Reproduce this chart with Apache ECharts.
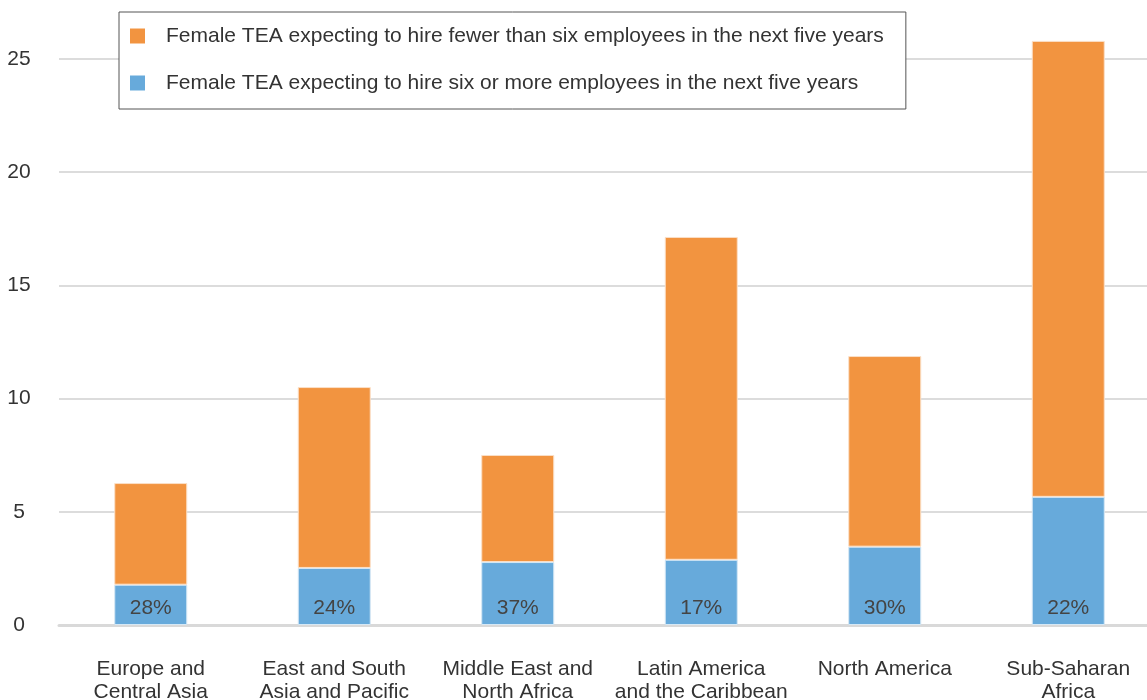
<!DOCTYPE html>
<html>
<head>
<meta charset="utf-8">
<script src="https://cdn.jsdelivr.net/npm/echarts@6/dist/echarts.min.js"></script>
<style>
  html, body { margin: 0; padding: 0; background: #fff; }
  #chart { width: 1147px; height: 700px; }
</style>
</head>
<body>
<div id="chart"></div>
<script>
// regions on the x axis
const regions = [
  'Europe and\nCentral Asia',
  'East and South\nAsia and Pacific',
  'Middle East and\nNorth Africa',
  'Latin America\nand the Caribbean',
  'North America',
  'Sub-Saharan\nAfrica'
];
// female TEA expecting to hire six or more (bottom, blue)
const sixOrMore = [1.78, 2.52, 2.78, 2.88, 3.46, 5.66];
// female TEA expecting to hire fewer than six (top, orange)
const fewerThanSix = [4.49, 7.99, 4.73, 14.26, 8.42, 20.14];
// share of the six-or-more group, printed in the blue part
const shareLabels = ['28%', '24%', '37%', '17%', '30%', '22%'];

const nameFewer = 'Female TEA expecting to hire fewer than six employees in the next five years';
const nameSix = 'Female TEA expecting to hire six or more employees in the next five years';

const font = 'Liberation Sans';
const chart = echarts.init(document.getElementById('chart'));

chart.setOption({
  animation: false,
  textStyle: { fontFamily: font },
  legend: {
    orient: 'vertical',
    left: 119,
    top: 12,
    padding: [13, 22, 15, 11],
    itemGap: 25,
    itemWidth: 15,
    itemHeight: 15,
    icon: 'rect',
    itemStyle: { borderWidth: 0 },
    borderColor: '#555',
    borderWidth: 1,
    backgroundColor: '#fff',
    data: [nameFewer, nameSix],
    textStyle: { fontSize: 21, color: '#333', lineHeight: 22, padding: [0, 0, 0, 16], fontFamily: font }
  },
  // plot area runs a little past the right edge of the picture
  grid: { left: 59, width: 1101, top: 59, bottom: 75, outerBoundsMode: 'none' },
  xAxis: {
    type: 'category',
    data: regions,
    axisLine: { lineStyle: { color: '#d9d9d9', width: 3 } },
    axisTick: { show: false },
    axisLabel: { fontSize: 21, color: '#333', lineHeight: 23, margin: 33, interval: 0, fontFamily: font }
  },
  yAxis: {
    type: 'value',
    min: 0,
    max: 25,
    interval: 5,
    axisLine: { show: false },
    axisTick: { show: false },
    splitLine: { lineStyle: { color: '#dcdcdc', width: 2 } },
    axisLabel: { fontSize: 21, color: '#333', align: 'center', margin: 40, padding: [0, 0, 14, 0], fontFamily: font }
  },
  series: [
    {
      name: nameSix,
      type: 'bar',
      stack: 'tea',
      data: sixOrMore,
      barWidth: 73,
      clip: false,
      itemStyle: { color: '#67aadb', borderColor: '#d6e8f5', borderWidth: 1 },
      label: {
        show: true,
        position: 'insideBottom',
        distance: 6,
        fontSize: 21,
        color: '#444',
        fontFamily: font,
        formatter: p => shareLabels[p.dataIndex]
      }
    },
    {
      name: nameFewer,
      type: 'bar',
      stack: 'tea',
      data: fewerThanSix,
      barWidth: 73,
      clip: false,
      itemStyle: { color: '#f29440', borderColor: '#fbe0c8', borderWidth: 1 }
    }
  ]
});
</script>
</body>
</html>
